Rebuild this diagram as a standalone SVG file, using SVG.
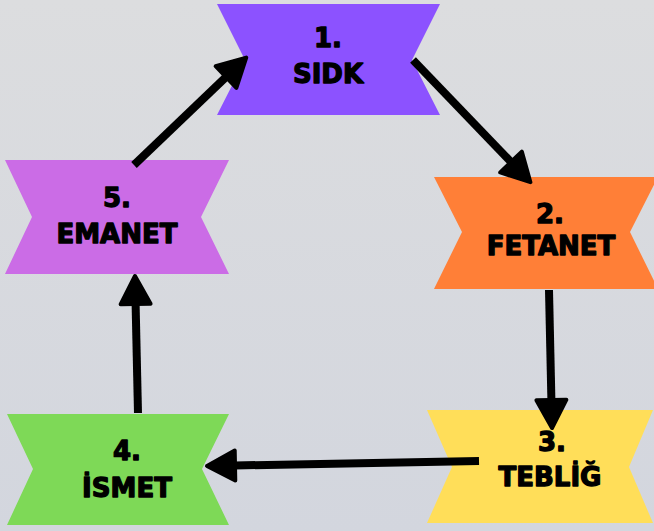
<svg xmlns="http://www.w3.org/2000/svg" width="654" height="531" viewBox="0 0 654 531">
  <defs>
    <linearGradient id="bg" x1="0" y1="0" x2="0" y2="1">
      <stop offset="0" stop-color="#DCDDDF"/>
      <stop offset="1" stop-color="#D3D6DE"/>
    </linearGradient>
    <marker id="head" viewBox="0 0 36 36" refX="3" refY="18" markerWidth="36" markerHeight="36" markerUnits="userSpaceOnUse" orient="auto" overflow="visible">
      <path d="M3,3 L31,18 L3,33 Z" fill="#000" stroke="#000" stroke-width="4" stroke-linejoin="round"/>
    </marker>
  </defs>
  <style>
    .lbl { font-family: "DejaVu Sans", "Liberation Sans", sans-serif; font-weight: bold; font-size: 26px; fill: #000; stroke: #000; stroke-width: 1.3; stroke-linejoin: round; text-anchor: middle; }
    .conn { stroke: #000; stroke-width: 8; fill: none; marker-end: url(#head); }
  </style>
  <rect width="654" height="531" fill="url(#bg)"/>

  <g id="node1">
    <polygon points="217,4 440,4 412,60 440,115 217,115 245,60" fill="#8C52FF"/>
    <text class="lbl" x="328" y="47">1.</text>
    <text class="lbl" x="328" y="83">SIDK</text>
  </g>
  <g id="node2">
    <polygon points="434,177 658,177 630,232 658,289 434,289 462,232" fill="#FF7F37"/>
    <text class="lbl" x="550" y="223">2.</text>
    <text class="lbl" x="551" y="255">FETANET</text>
  </g>
  <g id="node3">
    <polygon points="427,410 653,410 629,467 653,523 427,523 452,467" fill="#FFDE59"/>
    <text class="lbl" x="552" y="451">3.</text>
    <text class="lbl" x="550" y="486">TEBLİĞ</text>
  </g>
  <g id="node4">
    <polygon points="7,414 229,414 202,469 229,525 7,525 33,469" fill="#7ED957"/>
    <text class="lbl" x="127" y="460">4.</text>
    <text class="lbl" x="127" y="497">İSMET</text>
  </g>
  <g id="node5">
    <polygon points="5,160 229,160 201,217 229,274 5,274 32,217" fill="#CB6CE6"/>
    <text class="lbl" x="117" y="207">5.</text>
    <text class="lbl" x="117" y="243">EMANET</text>
  </g>

  <g id="connectors">
    <line class="conn" x1="134" y1="165" x2="226" y2="77"/>
    <line class="conn" x1="413" y1="60" x2="511" y2="162"/>
    <line class="conn" x1="549" y1="290" x2="551.4" y2="400"/>
    <line class="conn" x1="479" y1="461" x2="235" y2="465.5"/>
    <line class="conn" x1="138" y1="413" x2="135.6" y2="304"/>
  </g>
</svg>
